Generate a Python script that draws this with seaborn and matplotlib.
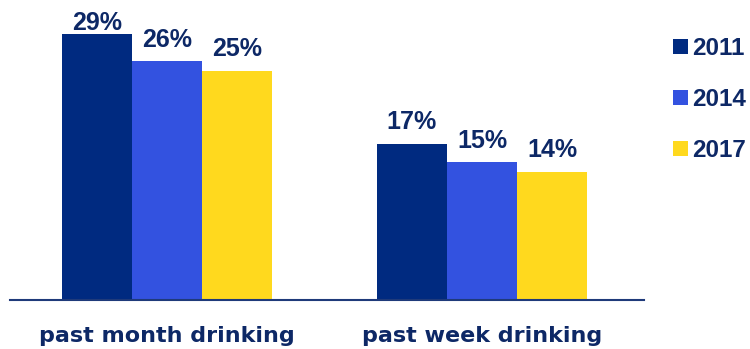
import matplotlib
matplotlib.use("Agg")
import matplotlib.pyplot as plt
import seaborn as sns
import pandas as pd
from matplotlib.patches import Patch

categories = ["past month drinking", "past week drinking"]
years = ["2011", "2014", "2017"]
values_2011 = [29, 17]
values_2014 = [26, 15]
values_2017 = [25, 14]

colors = ["#002A80", "#3352E0", "#FFD91E"]
text_color = "#0D2866"

rows = []
for y, vals in zip(years, [values_2011, values_2014, values_2017]):
    for c, v in zip(categories, vals):
        rows.append({"category": c, "year": y, "value": v})
df = pd.DataFrame(rows)

sns.set_theme(style="white")
plt.rcParams["font.family"] = ["Liberation Sans", "DejaVu Sans"]

fig = plt.figure(figsize=(7.5, 3.49), dpi=100)
ax = fig.add_axes([10 / 750, 49 / 349, 634 / 750, 300 / 349])

sns.barplot(data=df, x="category", y="value", hue="year", palette=colors,
            width=0.667, ax=ax, legend=False, saturation=1, linewidth=0)

for i, cont in enumerate(ax.containers):
    anns = ax.bar_label(cont, labels=[f"{v:.0f}%" for v in cont.datavalues],
                        padding=7, fontsize=18, fontweight="bold", color=text_color)
    if i == 0:
        anns[0].xyann = (0, -1)

ax.set_xlim(-0.498, 1.514)
ax.set_ylim(0, 32.7)
ax.set_xlabel("")
ax.set_ylabel("")
ax.set_yticks([])
for s in ["top", "right", "left"]:
    ax.spines[s].set_visible(False)
ax.spines["bottom"].set_color("#1F3A7A")
ax.spines["bottom"].set_linewidth(1.5)
ax.tick_params(axis="x", length=0, pad=19)
for lbl in ax.get_xticklabels():
    lbl.set_fontsize(16)
    lbl.set_fontweight("bold")
    lbl.set_family(["DejaVu Sans"])
    lbl.set_color(text_color)

handles = [Patch(facecolor=c, edgecolor="none") for c in colors]
leg = fig.legend(handles, years, loc="upper left", bbox_to_anchor=(673 / 750, 1 - 37 / 349),
                 frameon=False, prop={"size": 17.5, "weight": "bold"},
                 handlelength=0.6, handleheight=0.6, handletextpad=0.2,
                 labelspacing=1.15, borderaxespad=0, borderpad=0)
for t in leg.get_texts():
    t.set_color(text_color)

fig.savefig("out.png", dpi=100)
